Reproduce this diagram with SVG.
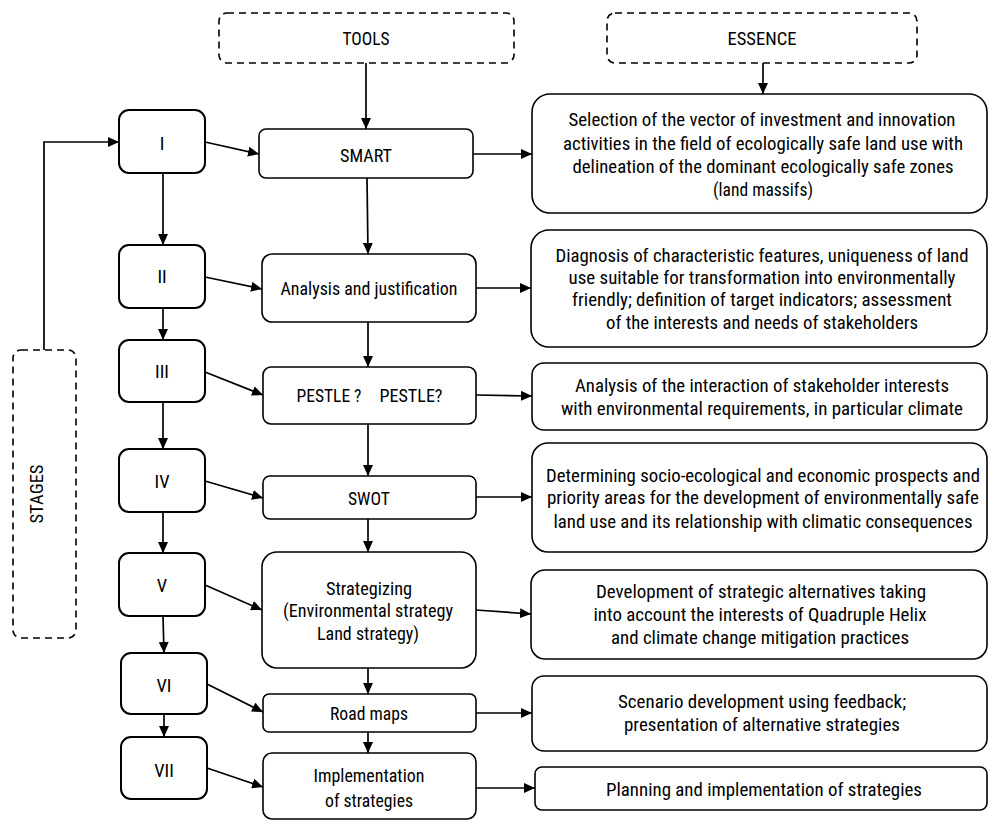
<svg xmlns="http://www.w3.org/2000/svg" width="989" height="821" viewBox="0 0 989 821">
<defs>
<marker id="ah" markerWidth="11" markerHeight="10" refX="11" refY="5" orient="auto" markerUnits="userSpaceOnUse"><path d="M0,0 L11,5 L0,10 z" fill="#000"/></marker>
<style>
rect{fill:#fff;stroke:#000}
.st{stroke-width:2}
.tl{stroke-width:1.6}
.es{stroke-width:1.6}
.dash{stroke-width:1.6;stroke-dasharray:7,5}
text{font-family:"Roboto Condensed",Roboto,"Liberation Sans",sans-serif;font-size:18.5px;fill:#000;text-anchor:middle}
.c line,.c path{stroke:#000;stroke-width:1.7;fill:none;marker-end:url(#ah)}
</style>
</defs>
<rect width="989" height="821" style="fill:#fff;stroke:none"/>
<g id="tools"><rect class="dash" x="219" y="13" width="295" height="50" rx="8"/><text x="366" y="45" textLength="47" lengthAdjust="spacingAndGlyphs">TOOLS</text></g>
<g id="essence"><rect class="dash" x="607" y="13" width="310" height="50" rx="8"/><text x="762" y="45" textLength="69" lengthAdjust="spacingAndGlyphs">ESSENCE</text></g>
<g id="stages"><rect class="dash" x="13" y="350" width="63" height="288" rx="8"/><text transform="translate(43,494) rotate(-90)" x="0" y="0" textLength="59" lengthAdjust="spacingAndGlyphs">STAGES</text></g>

<g id="s1"><rect class="st" x="119" y="110" width="86" height="63" rx="10"/><text x="162" y="150">I</text></g>
<g id="s2"><rect class="st" x="119" y="245" width="86" height="63" rx="10"/><text x="162" y="283">II</text></g>
<g id="s3"><rect class="st" x="119" y="340" width="86" height="62" rx="10"/><text x="162" y="378">III</text></g>
<g id="s4"><rect class="st" x="119" y="449" width="86" height="63" rx="10"/><text x="162" y="488">IV</text></g>
<g id="s5"><rect class="st" x="119" y="553" width="86" height="63" rx="10"/><text x="162" y="592">V</text></g>
<g id="s6"><rect class="st" x="121" y="653" width="86" height="61" rx="10"/><text x="164" y="692">VI</text></g>
<g id="s7"><rect class="st" x="121" y="737" width="86" height="62" rx="10"/><text x="164" y="777">VII</text></g>

<g id="t1"><rect class="tl" x="259" y="129" width="214" height="49" rx="7"/><text x="366" y="162" textLength="52" lengthAdjust="spacingAndGlyphs">SMART</text></g>
<g id="t2"><rect class="tl" x="262" y="254" width="214" height="68" rx="10"/><text x="369" y="295" textLength="177" lengthAdjust="spacingAndGlyphs">Analysis and justification</text></g>
<g id="t3"><rect class="tl" x="263" y="367" width="213" height="57" rx="8"/><text x="329" y="402" textLength="65" lengthAdjust="spacingAndGlyphs">PESTLE ?</text><text x="411" y="402" textLength="63" lengthAdjust="spacingAndGlyphs">PESTLE?</text></g>
<g id="t4"><rect class="tl" x="263" y="476" width="213" height="43" rx="7"/><text x="369" y="505" textLength="42" lengthAdjust="spacingAndGlyphs">SWOT</text></g>
<g id="t5"><rect class="tl" x="262" y="552" width="214" height="116" rx="15"/><text x="369" y="595" textLength="86" lengthAdjust="spacingAndGlyphs">Strategizing</text><text x="368" y="617" textLength="170" lengthAdjust="spacingAndGlyphs">(Environmental strategy</text><text x="368" y="640" textLength="102" lengthAdjust="spacingAndGlyphs">Land strategy)</text></g>
<g id="t6"><rect class="tl" x="263" y="694" width="213" height="38" rx="6"/><text x="369" y="720" textLength="78" lengthAdjust="spacingAndGlyphs">Road maps</text></g>
<g id="t7"><rect class="tl" x="263" y="753" width="213" height="66" rx="9"/><text x="369" y="782" textLength="111" lengthAdjust="spacingAndGlyphs">Implementation</text><text x="369" y="807" textLength="88" lengthAdjust="spacingAndGlyphs">of strategies</text></g>

<g id="e1"><rect class="es" x="532" y="94" width="455" height="119" rx="18"/>
<text x="762" y="126" textLength="387" lengthAdjust="spacingAndGlyphs">Selection of the vector of investment and innovation</text>
<text x="763" y="150" textLength="400" lengthAdjust="spacingAndGlyphs">activities in the field of ecologically safe land use with</text>
<text x="763" y="173" textLength="381" lengthAdjust="spacingAndGlyphs">delineation of the dominant ecologically safe zones</text>
<text x="763" y="196" textLength="100" lengthAdjust="spacingAndGlyphs">(land massifs)</text></g>
<g id="e2"><rect class="es" x="531" y="230" width="456" height="117" rx="18"/>
<text x="762" y="262" textLength="413" lengthAdjust="spacingAndGlyphs">Diagnosis of characteristic features, uniqueness of land</text>
<text x="762" y="284" textLength="387" lengthAdjust="spacingAndGlyphs">use suitable for transformation into environmentally</text>
<text x="762" y="306" textLength="380" lengthAdjust="spacingAndGlyphs">friendly; definition of target indicators; assessment</text>
<text x="762" y="329" textLength="312" lengthAdjust="spacingAndGlyphs">of the interests and needs of stakeholders</text></g>
<g id="e3"><rect class="es" x="532" y="363" width="455" height="67" rx="12"/>
<text x="762" y="392" textLength="374" lengthAdjust="spacingAndGlyphs">Analysis of the interaction of stakeholder interests</text>
<text x="762" y="415" textLength="402" lengthAdjust="spacingAndGlyphs">with environmental requirements, in particular climate</text></g>
<g id="e4"><rect class="es" x="532" y="443" width="455" height="109" rx="16"/>
<text x="763" y="482" textLength="434" lengthAdjust="spacingAndGlyphs">Determining socio-ecological and economic prospects and</text>
<text x="763" y="504" textLength="432" lengthAdjust="spacingAndGlyphs">priority areas for the development of environmentally safe</text>
<text x="763" y="528" textLength="419" lengthAdjust="spacingAndGlyphs">land use and its relationship with climatic consequences</text></g>
<g id="e5"><rect class="es" x="531" y="570" width="456" height="89" rx="14"/>
<text x="761" y="598" textLength="330" lengthAdjust="spacingAndGlyphs">Development of strategic alternatives taking</text>
<text x="760" y="621" textLength="333" lengthAdjust="spacingAndGlyphs">into account the interests of Quadruple Helix</text>
<text x="760" y="644" textLength="298" lengthAdjust="spacingAndGlyphs">and climate change mitigation practices</text></g>
<g id="e6"><rect class="es" x="532" y="676" width="455" height="75" rx="12"/>
<text x="762" y="708" textLength="288" lengthAdjust="spacingAndGlyphs">Scenario development using feedback;</text>
<text x="762" y="731" textLength="276" lengthAdjust="spacingAndGlyphs">presentation of alternative strategies</text></g>
<g id="e7"><rect class="es" x="535" y="767" width="452" height="43" rx="7"/>
<text x="764" y="796" textLength="316" lengthAdjust="spacingAndGlyphs">Planning and implementation of strategies</text></g>

<g id="connectors" class="c">
<line x1="366" y1="63" x2="366" y2="129"/>
<line x1="763" y1="63" x2="763" y2="94"/>
<path d="M44,350 V142 H119"/>
<line x1="205" y1="142" x2="259" y2="154"/>
<line x1="205" y1="277" x2="262" y2="289"/>
<line x1="205" y1="372" x2="263" y2="395"/>
<line x1="205" y1="481" x2="263" y2="498"/>
<line x1="205" y1="585" x2="262" y2="610"/>
<line x1="207" y1="684" x2="263" y2="712"/>
<line x1="207" y1="768" x2="263" y2="787"/>
<line x1="163" y1="173" x2="163" y2="245"/>
<line x1="163" y1="308" x2="163" y2="340"/>
<line x1="163" y1="402" x2="163" y2="449"/>
<line x1="163" y1="512" x2="163" y2="553"/>
<line x1="163" y1="616" x2="164" y2="653"/>
<line x1="164" y1="714" x2="164" y2="737"/>
<line x1="367" y1="178" x2="368" y2="254"/>
<line x1="368" y1="322" x2="368" y2="367"/>
<line x1="368" y1="424" x2="368" y2="476"/>
<line x1="368" y1="519" x2="368" y2="552"/>
<line x1="368" y1="668" x2="368" y2="694"/>
<line x1="368" y1="732" x2="368" y2="753"/>
<line x1="473" y1="154" x2="532" y2="154"/>
<line x1="476" y1="288" x2="531" y2="288"/>
<line x1="476" y1="395" x2="532" y2="396"/>
<line x1="476" y1="497" x2="532" y2="497"/>
<line x1="476" y1="610" x2="531" y2="614"/>
<line x1="476" y1="713" x2="532" y2="713"/>
<line x1="476" y1="788" x2="535" y2="788"/>
</g>
</svg>
